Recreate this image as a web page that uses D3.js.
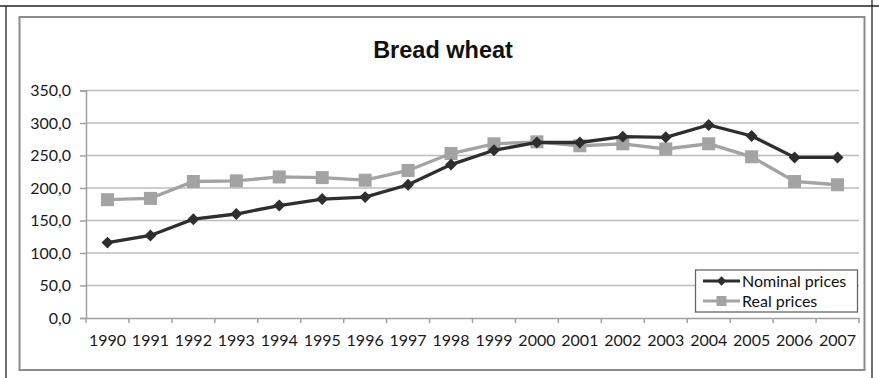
<!DOCTYPE html>
<html>
<head>
<meta charset="utf-8">
<script src="https://cdn.jsdelivr.net/npm/d3@7"></script>
<style>
  html, body { margin: 0; padding: 0; background: #fff; }
  svg { display: block; }
</style>
</head>
<body>
<svg id="chart" width="879" height="378"></svg>
<script>
// Bread wheat prices, 1990-2007
const years = ["1990","1991","1992","1993","1994","1995","1996","1997","1998",
               "1999","2000","2001","2002","2003","2004","2005","2006","2007"];
const nominalPrices = [116, 127, 152, 160, 173, 183, 186, 205, 236,
                       258, 270, 270, 279, 278, 297, 280, 247, 247];
const realPrices    = [182, 184, 210, 211, 217, 216, 212, 227, 253,
                       268, 271, 265, 268, 260, 268, 248, 210, 205];
const yTicks = [0, 50, 100, 150, 200, 250, 300, 350];
const seriesNames = ["Nominal prices", "Real prices"];

const svg = d3.select("#chart");
const W = 879, H = 378;
const plot = { left: 86, right: 859, top: 90.5, bottom: 318 };
const font = "Lato, 'Open Sans', sans-serif";

// outer frame
svg.append("line").attr("x1", 0).attr("x2", W).attr("y1", 6).attr("y2", 6)
  .attr("stroke", "#222").attr("stroke-width", 1.3);
svg.append("line").attr("x1", 6).attr("x2", 6).attr("y1", 6).attr("y2", H)
  .attr("stroke", "#222").attr("stroke-width", 1.3);
svg.append("line").attr("x1", 872).attr("x2", 872).attr("y1", 0).attr("y2", H)
  .attr("stroke", "#222").attr("stroke-width", 1.3);

// chart area frame
svg.append("rect").attr("x", 19.5).attr("y", 17).attr("width", 845).attr("height", 353)
  .attr("fill", "#fff").attr("stroke", "#8c8c8c").attr("stroke-width", 2);

// title
svg.append("text").attr("x", 443).attr("y", 58).attr("text-anchor", "middle")
  .attr("font-family", "Arial, 'Liberation Sans', sans-serif").attr("font-weight", "bold")
  .attr("font-size", 23.5).attr("fill", "#111").text("Bread wheat");

const x = d3.scaleBand().domain(years).range([plot.left, plot.right]).paddingInner(0).paddingOuter(0);
const y = d3.scaleLinear().domain([0, 350]).range([plot.bottom, plot.top]);

// gridlines
svg.append("g").selectAll("line").data(yTicks.filter(d => d > 0)).join("line")
  .attr("x1", plot.left).attr("x2", plot.right)
  .attr("y1", d => y(d)).attr("y2", d => y(d))
  .attr("stroke", "#bdbdbd").attr("stroke-width", 1.5);

// y axis
const yAxis = svg.append("g").attr("transform", `translate(${plot.left},0)`)
  .call(d3.axisLeft(y).tickValues(yTicks).tickSize(6).tickPadding(9)
    .tickFormat(d => d3.format(".1f")(d).replace(".", ",")));
yAxis.select(".domain").attr("stroke", "#a0a0a0").attr("stroke-width", 1.5);
yAxis.selectAll(".tick line").attr("stroke", "#a0a0a0").attr("stroke-width", 1.5);
yAxis.selectAll("text").attr("font-family", font).attr("font-size", 16).attr("fill", "#1a1a1a");

// x axis
const xAxis = svg.append("g").attr("transform", `translate(0,${plot.bottom})`)
  .call(d3.axisBottom(x).tickSize(0).tickPadding(17));
xAxis.select(".domain").attr("stroke", "#a0a0a0").attr("stroke-width", 1.5);
xAxis.selectAll("text").attr("font-family", font).attr("font-size", 16).attr("fill", "#1a1a1a");
// category boundary ticks
const bounds = years.map(d => x(d)).concat([plot.right]);
xAxis.append("g").selectAll("line").data(bounds).join("line")
  .attr("x1", d => d).attr("x2", d => d).attr("y1", 0).attr("y2", 5)
  .attr("stroke", "#a0a0a0").attr("stroke-width", 1.5);

const cx = d => x(d) + x.bandwidth() / 2;
const line = d3.line().x(d => cx(d.year)).y(d => y(d.v));

const nominal = years.map((yr, i) => ({ year: yr, v: nominalPrices[i] }));
const real = years.map((yr, i) => ({ year: yr, v: realPrices[i] }));

const nomColor = "#2e2e2e", realColor = "#a3a3a3";

// real prices
svg.append("path").datum(real).attr("d", line).attr("fill", "none")
  .attr("stroke", realColor).attr("stroke-width", 3.3);
const sq = 13;
svg.append("g").selectAll("rect").data(real).join("rect")
  .attr("x", d => cx(d.year) - sq / 2).attr("y", d => y(d.v) - sq / 2)
  .attr("width", sq).attr("height", sq).attr("fill", realColor);

// nominal prices
svg.append("path").datum(nominal).attr("d", line).attr("fill", "none")
  .attr("stroke", nomColor).attr("stroke-width", 3.3);
const diamond = d3.symbol().type(d3.symbolDiamond2).size(90);
svg.append("g").selectAll("path").data(nominal).join("path")
  .attr("transform", d => `translate(${cx(d.year)},${y(d.v)})`)
  .attr("d", diamond).attr("fill", nomColor);

// legend
const lg = svg.append("g");
lg.append("rect").attr("x", 695.5).attr("y", 270).attr("width", 162).attr("height", 42)
  .attr("fill", "#fff").attr("stroke", "#666").attr("stroke-width", 1.3);
const rows = [
  { name: seriesNames[0], color: nomColor, y: 281, marker: "diamond" },
  { name: seriesNames[1], color: realColor, y: 301, marker: "square" }
];
rows.forEach(r => {
  lg.append("line").attr("x1", 703).attr("x2", 740).attr("y1", r.y).attr("y2", r.y)
    .attr("stroke", r.color).attr("stroke-width", 3);
  if (r.marker === "diamond") {
    lg.append("path").attr("transform", `translate(721.5,${r.y})`)
      .attr("d", d3.symbol().type(d3.symbolDiamond2).size(55)).attr("fill", r.color);
  } else {
    lg.append("rect").attr("x", 716.5).attr("y", r.y - 5).attr("width", 10).attr("height", 10)
      .attr("fill", r.color);
  }
  lg.append("text").attr("x", 742).attr("y", r.y + 5.5)
    .attr("font-family", font).attr("font-size", 16).attr("fill", "#111").text(r.name);
});
</script>
</body>
</html>
